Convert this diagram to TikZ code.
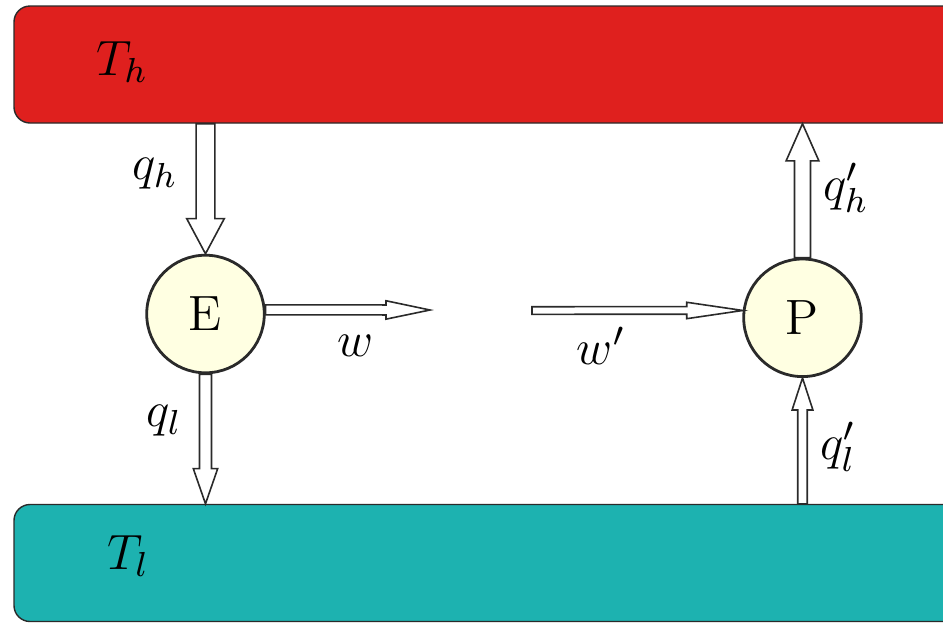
\RequirePackage{fix-cm}
\documentclass[tikz,border=0pt]{standalone}
\usetikzlibrary{calc}
\definecolor{hotred}{HTML}{DF201E}
\definecolor{coldteal}{HTML}{1DB2B0}
\definecolor{engfill}{HTML}{FFFFE2}
\definecolor{edge}{HTML}{2A2A2A}
\tikzset{
  tank/.style={draw=edge, line width=0.35pt, rounded corners=4pt, minimum width=239pt, minimum height=29.25pt, inner sep=0pt},
  machine/.style={circle, draw=edge, line width=0.7pt, fill=engfill, minimum size=29.4pt, inner sep=0pt, font=\fontsize{12.4}{15}\selectfont},
  lbl/.style={inner sep=0pt, font=\fontsize{12.4}{15}\selectfont},
  arrowline/.style={draw=edge, line width=0.4pt, fill=white, line join=miter}
}
% #1 start, #2 end, #3 shaft half width, #4 head half width, #5 head length
\newcommand\fatarrow[5]{%
  \coordinate (fatH) at ($(#2)!#5!(#1)$);
  \path[arrowline] ($(#1)!#3!90:(#2)$) -- ($(fatH)!#3!90:(#2)$) -- ($(fatH)!#4!90:(#2)$) -- (#2)
    -- ($(fatH)!#4!-90:(#2)$) -- ($(fatH)!#3!-90:(#2)$) -- ($(#1)!#3!-90:(#2)$) -- cycle;
}
\begin{document}
\begin{tikzpicture}[x=0.25pt, y=-0.25pt]
\useasboundingbox (0,0) rectangle (943,622);
% reservoirs
\node[tank, fill=hotred] (hot) at (492,64.5) {};
\node[tank, fill=coldteal] (cold) at (492,563) {};
\node[lbl] (Th) at (122,62) {$T_h$};
\node[lbl] (Tl) at (128,556) {$T_l$};
% machines
\node[machine] (E) at (205.5,314) {E};
\node[machine] (P) at (802.5,317.8) {P};
% free ends
\coordinate (wend) at (430,310);
\coordinate (wpstart) at (532,310.5);
\coordinate (qhtop) at (E.north |- hot.south);
\coordinate (qlbot) at (E.south |- cold.north);
\coordinate (qhptop) at (P.north |- hot.south);
\coordinate (qlpbot) at (P.south |- cold.north);
% arrows
\fatarrow{qhtop}{E.north}{2.35pt}{4.7pt}{8.8pt}
\fatarrow{E.south}{qlbot}{1.5pt}{3.05pt}{8.8pt}
\fatarrow{E.4}{wend}{1.25pt}{2.3pt}{11pt}
\fatarrow{wpstart}{P.173}{0.95pt}{2.05pt}{14pt}
\fatarrow{P.north}{qhptop}{2pt}{4.1pt}{9.3pt}
\fatarrow{qlpbot}{P.south}{1.18pt}{2.6pt}{8pt}
% labels
\node[lbl] (lqh) at (155,174) {$q_h$};
\node[lbl] (lql) at (164,421) {$q_l$};
\node[lbl] (lw) at (356,346) {$w$};
\node[lbl] (lwp) at (601,346) {$w'$};
\node[lbl] (lqhp) at (846,188) {$q_h'$};
\node[lbl] (lqlp) at (838,447) {$q_l'$};
\end{tikzpicture}
\end{document}
